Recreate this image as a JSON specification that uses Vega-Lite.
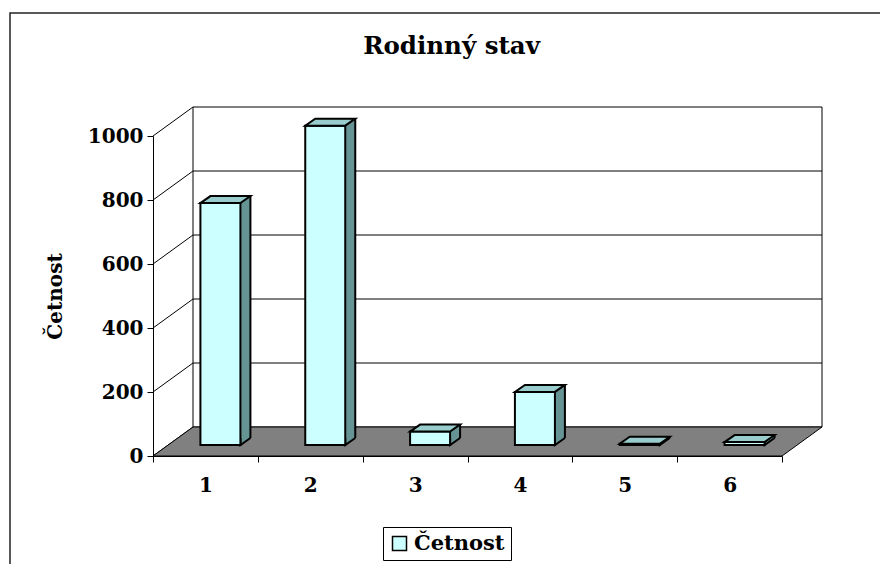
{
  "$schema": "https://vega.github.io/schema/vega-lite/v6.json",
  "width": 629,
  "height": 320,
  "autosize": {"type": "none"},
  "padding": {"left": 153, "top": 136, "right": 98, "bottom": 108},
  "background": "white",
  "title": {"text": "Rodinný stav", "font": "DejaVu Serif", "fontSize": 24.5, "fontWeight": "bold", "color": "black", "anchor": "middle", "frame": "group", "dx": -16, "offset": -68, "baseline": "alphabetic"},
  "config": {
    "view": {"stroke": null},
    "font": "DejaVu Serif",
    "axis": {"domainColor": "black", "tickColor": "black", "labelColor": "black", "labelFont": "DejaVu Serif", "labelFontWeight": "bold", "labelFontSize": 20, "titleFont": "DejaVu Serif", "titleFontWeight": "bold", "titleFontSize": 20, "titleColor": "black", "grid": false, "tickSize": 6, "domainWidth": 1, "tickWidth": 1},
    "axisX": {"tickBand": "extent", "labelPadding": 13, "labelAngle": 0},
    "axisY": {"tickCount": 5, "labelPadding": 4, "titlePadding": 22, "format": "d"}
  },
  "datasets": {
    "bars": [
      {"stav": "1", "cetnost": 756},
      {"stav": "2", "cetnost": 998},
      {"stav": "3", "cetnost": 42},
      {"stav": "4", "cetnost": 166},
      {"stav": "5", "cetnost": 4},
      {"stav": "6", "cetnost": 9}
    ],
    "ticks": [{"t": 0}, {"t": 200}, {"t": 400}, {"t": 600}, {"t": 800}, {"t": 1000}],
    "grid": [{"t": 200}, {"t": 400}, {"t": 600}, {"t": 800}],
    "base": [{"t": 0}]
  },
  "layer": [
    {
      "data": {"name": "base"},
      "mark": {"type": "point", "shape": "M 760 -123 L -143 -123 L -143 460", "size": 4, "filled": false, "fill": "transparent", "stroke": "#222222", "strokeWidth": 1.5, "opacity": 1, "strokeOpacity": 1},
      "encoding": {
        "x": {"datum": "1", "type": "nominal", "bandPosition": 0, "title": null, "scale": {"type": "band", "domain": ["1", "2", "3", "4", "5", "6"], "paddingInner": 0, "paddingOuter": 0}},
        "y": {"datum": 1000, "type": "quantitative", "title": "Četnost", "scale": {"domain": [0, 1000], "nice": false, "zero": true}}
      }
    },
    {
      "data": {"name": "base"},
      "mark": {"type": "rect", "fill": "white", "stroke": "black", "strokeWidth": 1, "xOffset": 40, "x2Offset": 40, "yOffset": -29, "y2Offset": -29},
      "encoding": {
        "x": {"datum": "1", "type": "nominal", "bandPosition": 0, "title": null},
        "x2": {"datum": "6", "bandPosition": 1},
        "y": {"datum": 0, "type": "quantitative", "title": "Četnost"},
        "y2": {"datum": 1000}
      }
    },
    {
      "data": {"name": "grid"},
      "mark": {"type": "rule", "stroke": "black", "strokeWidth": 1, "xOffset": 40, "x2Offset": 40, "yOffset": -29},
      "encoding": {
        "x": {"datum": "1", "type": "nominal", "bandPosition": 0, "title": null},
        "x2": {"datum": "6", "bandPosition": 1},
        "y": {"field": "t", "type": "quantitative", "title": "Četnost"}
      }
    },
    {
      "data": {"name": "ticks"},
      "mark": {"type": "rule", "stroke": "black", "strokeWidth": 1, "x2Offset": 40, "y2Offset": -29},
      "encoding": {
        "x": {"datum": "1", "type": "nominal", "bandPosition": 0, "title": null},
        "x2": {"datum": "1", "bandPosition": 0},
        "y": {"field": "t", "type": "quantitative", "title": "Četnost"},
        "y2": {"field": "t"}
      }
    },
    {
      "data": {"name": "base"},
      "mark": {"type": "point", "shape": "M 0 0 L 629 0 L 669 -29 L 40 -29 Z", "size": 4, "filled": true, "fill": "#808080", "stroke": "black", "strokeWidth": 1, "opacity": 1, "fillOpacity": 1, "strokeOpacity": 1},
      "encoding": {
        "x": {"datum": "1", "type": "nominal", "bandPosition": 0, "title": null},
        "y": {"datum": 0, "type": "quantitative", "title": "Četnost"}
      }
    },
    {
      "data": {"name": "bars"},
      "mark": {"type": "bar", "width": 10, "xOffset": 40, "yOffset": -18, "y2Offset": -18, "fill": "#669494", "strokeWidth": 0},
      "encoding": {
        "x": {"field": "stav", "type": "nominal", "title": null},
        "y": {"field": "cetnost", "type": "quantitative", "title": "Četnost"},
        "y2": {"datum": 0}
      }
    },
    {
      "data": {"name": "bars"},
      "mark": {"type": "point", "shape": "M 35 -18 L 35 -11 L 45 -18", "size": 4, "filled": true, "fill": "#669494", "stroke": "black", "strokeWidth": 2, "opacity": 1, "fillOpacity": 1, "strokeOpacity": 1},
      "encoding": {
        "x": {"field": "stav", "type": "nominal", "title": null},
        "y": {"datum": 0, "type": "quantitative", "title": "Četnost"}
      }
    },
    {
      "data": {"name": "bars"},
      "mark": {"type": "bar", "width": 40, "xOffset": 15, "yOffset": -11, "y2Offset": -11, "stroke": "black", "strokeWidth": 2, "opacity": 1},
      "encoding": {
        "x": {"field": "stav", "type": "nominal", "title": null},
        "y": {"field": "cetnost", "type": "quantitative", "title": "Četnost"},
        "y2": {"datum": 0},
        "color": {"datum": "Četnost", "type": "nominal", "scale": {"range": ["#CCFFFF"]}, "legend": {"orient": "none", "legendX": 230, "legendY": 391, "title": null, "strokeColor": "black", "fillColor": "white", "padding": 6, "symbolType": "square", "symbolSize": 196, "symbolStrokeColor": "black", "symbolStrokeWidth": 1.5, "symbolOpacity": 1, "labelFont": "DejaVu Serif", "labelFontWeight": "bold", "labelFontSize": 21, "labelColor": "black"}}
      }
    },
    {
      "data": {"name": "bars"},
      "mark": {"type": "rule", "stroke": "black", "strokeWidth": 2, "xOffset": 45, "yOffset": -18, "y2Offset": -18},
      "encoding": {
        "x": {"field": "stav", "type": "nominal", "title": null},
        "y": {"field": "cetnost", "type": "quantitative", "title": "Četnost"},
        "y2": {"datum": 0}
      }
    },
    {
      "data": {"name": "bars"},
      "mark": {"type": "point", "shape": "M -5 -11 L 35 -11 L 45 -18 L 5 -18 Z", "size": 4, "filled": true, "fill": "#99CCCC", "stroke": "black", "strokeWidth": 2, "opacity": 1, "fillOpacity": 1, "strokeOpacity": 1},
      "encoding": {
        "x": {"field": "stav", "type": "nominal", "title": null},
        "y": {"field": "cetnost", "type": "quantitative", "title": "Četnost"}
      }
    }
  ]
}
